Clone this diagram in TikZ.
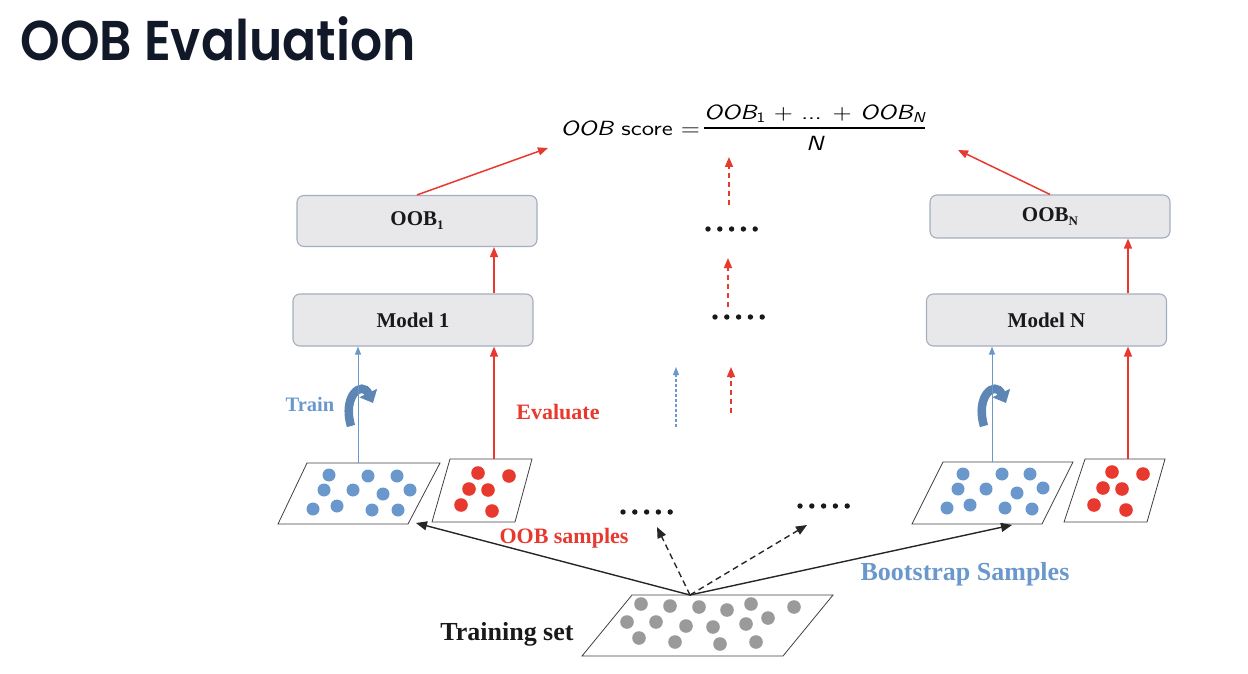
\documentclass[tikz,border=0pt]{standalone}
\usepackage{fontspec}
\setmainfont{Liberation Serif}
\newfontfamily\titlefont{Poppins}[FakeStretch=0.9, BoldFont={* SemiBold}]
\newfontfamily\formfont{lmsans10-regular.otf}[ItalicFont=lmsans10-oblique.otf, FakeStretch=1.2]
\usetikzlibrary{arrows.meta}

\definecolor{oobred}{HTML}{E8392F}
\definecolor{oobblue}{HTML}{6A98CC}
\definecolor{oobgrey}{HTML}{9A9A9A}
\definecolor{boxfill}{HTML}{E8E7EA}
\definecolor{boxline}{HTML}{A3AFC0}
\definecolor{titleink}{HTML}{111827}

\tikzset{
  stage/.style={draw=boxline, fill=boxfill, rounded corners=7pt, line width=1.1pt, text=black!90,
    minimum width=240pt, font=\bfseries\fontsize{21}{24}\selectfont},
  plate/.style={draw=black!75, line width=0.8pt},
  redup/.style={draw=oobred, line width=1.5pt, -{Triangle[length=10pt,width=8pt]}},
  blueup/.style={draw=oobblue, line width=1pt, -{Triangle[length=8pt,width=6pt]}},
  reddash/.style={redup, dash pattern=on 5pt off 4pt},
  bluedash/.style={blueup, line width=1.2pt, dash pattern=on 3pt off 2pt},
  sample/.style={draw=black!85, line width=1.4pt, -{Triangle[length=11pt,width=9pt]}},
  sampledash/.style={sample, dash pattern=on 6pt off 4pt},
  curl/.style={draw=oobblue!88!black, line width=8.5pt, -{Triangle[length=11pt,width=19pt]}},
  tag/.style={font=\bfseries\fontsize{22}{26}\selectfont},
  bigtag/.style={font=\bfseries\fontsize{26}{30}\selectfont},
}

\newcommand\dotrow[2]{\foreach \k in {0,...,4} \fill[black!90] (#1+\k*11.8,#2) circle (2.7);}

\begin{document}
\begin{tikzpicture}[x=1pt,y=-1pt]
\useasboundingbox (0,0) rectangle (1248,674);

\node[font=\titlefont\bfseries\fontsize{56}{64}\selectfont, text=titleink, anchor=base west] (title) at (17,61) {OOB Evaluation};

\node[font=\formfont\fontsize{20.5}{24}\selectfont, inner sep=0pt] (score) at (743,130)
  {{\itshape OOB} score =\hspace{4pt}\setlength{\arrayrulewidth}{1.3pt}\begin{tabular}{@{}c@{}}
   {\itshape OOB}\textsubscript{1} + ... + {\itshape OOB}\textsubscript{\itshape N}\\[1pt]\hline
   \rule{0pt}{22pt}{\itshape N}\end{tabular}};

\node[stage, minimum height=51pt] (oob1) at (417,221) {OOB\raisebox{-4pt}{\fontsize{13}{13}\selectfont 1}};
\node[stage, minimum height=52pt] (model1) at (413,320) {Model 1};
\node[stage, minimum height=43pt] (oobN) at (1050,216.5) {OOB\raisebox{-4pt}{\fontsize{13}{13}\selectfont N}};
\node[stage, minimum height=52pt] (modelN) at (1046.5,320) {Model N};

\coordinate (sl) at (548,148);
\coordinate (sr) at (958,150);
\draw[redup] (oob1.north) -- (sl);
\draw[redup] (oobN.north) -- (sr);

\coordinate (m1) at (729,205); \coordinate (m1t) at (729,157);
\coordinate (m2) at (728,307); \coordinate (m2t) at (728,258);
\coordinate (m3) at (731,413); \coordinate (m3t) at (731,367);
\coordinate (m4) at (676,427); \coordinate (m4t) at (676,367);
\draw[reddash] (m1) -- (m1t);
\draw[reddash] (m2) -- (m2t);
\draw[reddash] (m3) -- (m3t);
\draw[bluedash] (m4) -- (m4t);
\dotrow{708}{229}
\dotrow{715}{317}

\draw[curl] (351,426) .. controls (342,396) and (362,380) .. (373,403);
\draw[curl] (984,426) .. controls (975,396) and (995,380) .. (1006,403);

\draw[plate] (307,463) -- (440,463) -- (408,524) -- (278,524) -- cycle;
\draw[plate] (450,459) -- (532,459) -- (515,522) -- (432,522) -- cycle;
\draw[plate] (943,462) -- (1073,462) -- (1042,524) -- (912,524) -- cycle;
\draw[plate] (1085,459) -- (1165,459) -- (1147,522) -- (1064,522) -- cycle;
\draw[plate] (632,595) -- (833,595) -- (783,656) -- (582,656) -- cycle;

\foreach \p in {(329,475),(368,476),(397,476),(324,490),(353,490),(383,494),(410,490),(313,509),(337,506),(372,510),(398,510),
                (963,474),(1002,474),(1030,474),(958,489),(986,489),(1017,493),(1043,488),(947,508),(970,505),(1005,508),(1032,509)}
  \fill[oobblue] \p circle (6.5);
\foreach \p in {(478,473),(509,476),(469,489),(488,490),(461,505),(492,511),
                (1112,472),(1143,474),(1103,488),(1122,489),(1094,505),(1126,510)}
  \fill[oobred] \p circle (6.8);
\foreach \p in {(641,604),(670,606),(699,607),(727,610),(751,604),(794,607),(627,622),(656,622),
                (686,626),(713,627),(746,624),(768,618),(639,638),(675,642),(720,644),(756,642)}
  \fill[oobgrey] \p circle (6.8);

\coordinate (bt1) at (358,463);
\coordinate (rt1) at (494,459);
\coordinate (bt2) at (992,462);
\coordinate (rt2) at (1128,459);
\draw[blueup] (bt1) -- (bt1 |- model1.south);
\draw[redup] (rt1) -- (rt1 |- model1.south);
\draw[redup] (model1.north -| rt1) -- (oob1.south -| rt1);
\draw[blueup] (bt2) -- (bt2 |- modelN.south);
\draw[redup] (rt2) -- (rt2 |- modelN.south);
\draw[redup] (modelN.north -| rt2) -- (oobN.south -| rt2);

\coordinate (apex) at (690,595);
\coordinate (in1) at (416,523);
\coordinate (in2) at (1012,525);
\coordinate (d1) at (657,527);
\coordinate (d2) at (807,525);
\draw[sample] (apex) -- (in1);
\draw[sample] (apex) -- (in2);
\draw[sampledash] (apex) -- (d1);
\draw[sampledash] (apex) -- (d2);
\dotrow{623}{512}
\dotrow{800}{506}

\node[text=oobblue, font=\bfseries\fontsize{20.5}{24}\selectfont] (train) at (310,404) {Train};
\node[tag, text=oobred] (evaluate) at (558,412) {Evaluate};
\node[tag, text=oobred] (oobs) at (564,538) {OOB samples};
\node[bigtag, text=oobblue] (boot) at (965,574) {Bootstrap Samples};
\node[bigtag, text=black!90] (trainset) at (507,634) {Training set};
\end{tikzpicture}
\end{document}
